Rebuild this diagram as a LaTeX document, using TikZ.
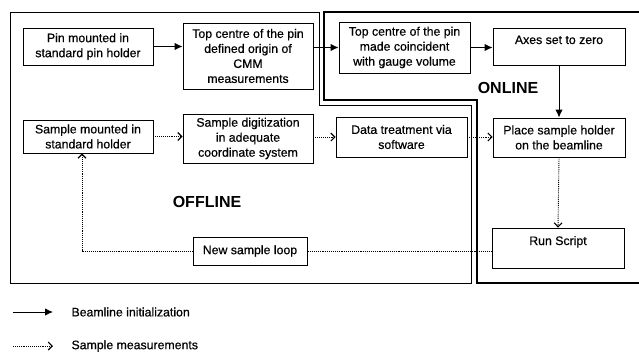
\documentclass[tikz,border=0pt]{standalone}
\usepackage{fontspec}
\setmainfont{Liberation Sans}
\newfontfamily\heavyfont{Liberation Sans}[FakeBold=0.5]
\usetikzlibrary{arrows.meta}
\begin{document}
\begin{tikzpicture}[x=1pt,y=-1pt,
  box/.style={draw,line width=0.9pt,inner sep=0pt,align=center,font=\heavyfont\fontsize{12.3}{15}\selectfont},
  solidarr/.style={line width=1pt,-{Latex[length=8pt,width=7.5pt]}},
  dotarr/.style={line width=0.9pt,densely dotted,-{Straight Barb[length=4pt,width=8pt,line width=1.1pt]}},
  dotline/.style={line width=0.9pt,densely dotted},
  zone/.style={font=\fontsize{16}{18}\selectfont\bfseries},
  legendtext/.style={font=\heavyfont\fontsize{12.3}{14}\selectfont,anchor=west}]
\useasboundingbox (0,0) rectangle (639,353);
\fill[white] (0,0) rectangle (639,353);

% region frames
\draw[line width=0.9pt] (10,12) -- (319,12) -- (319,105) -- (471,105) -- (471,283) -- (10,283) -- cycle;
\draw[line width=2.6pt] (640,12) -- (324,12) -- (324,100) -- (477,100) -- (477,283) -- (640,283);

% nodes
\node[box,minimum width=130pt,minimum height=37pt] (pin) at (88,46.5) {Pin mounted in\\standard pin holder};
\node[box,minimum width=130pt,minimum height=66pt] (def) at (248,56) {Top centre of the pin\\defined origin of\\CMM\\measurements};
\node[box,minimum width=131pt,minimum height=51pt] (coin) at (404.5,47.5) {Top centre of the pin\\made coincident\\with gauge volume};
\node[box,minimum width=132pt,text height=16pt,text depth=21pt] (axes) at (559,46.5) {Axes set to zero};
\node[box,minimum width=132pt,minimum height=39pt] (place) at (559,137.5) {Place sample holder\\on the beamline};
\node[box,minimum width=130pt,minimum height=33pt] (smount) at (88,136.5) {Sample mounted in\\standard holder};
\node[box,minimum width=130pt,minimum height=49pt] (digit) at (248,138.5) {Sample digitization\\in adequate\\coordinate system};
\node[box,minimum width=131pt,minimum height=40pt] (data) at (401.5,137) {Data treatment via\\software};
\node[box,minimum width=114pt,minimum height=28pt] (loop) at (250,251) {New sample loop};
\node[box,minimum width=132pt,text height=17pt,text depth=23pt] (run) at (558,248) {Run Script};

% zone labels
\node[zone] (online) at (508,88) {ONLINE};
\node[zone] (offline) at (207,202) {OFFLINE};

% beamline initialization (solid)
\draw[solidarr] (pin.east) -- (pin.east -| def.west);
\draw[solidarr] (coin.west -| def.east) -- (coin.west);
\draw[solidarr] (coin.east) -- (coin.east -| axes.west);
\draw[solidarr] (axes.south) -- (place.north);

% sample measurements (dotted)
\draw[dotarr] (smount.east) -- (smount.east -| digit.west);
\draw[dotarr] (data.west -| digit.east) -- (data.west);
\draw[dotarr] (data.east) -- (data.east -| place.west);
\draw[dotarr] (place.south) -- (run.north);
\draw[dotline] (run.west |- loop.east) -- (loop.east);
\coordinate (turn) at (82,251);
\draw[dotarr] (loop.west) -- (turn) -- (turn |- smount.south);

% legend
\coordinate (l1a) at (13,312);
\coordinate (l1b) at (53,312);
\coordinate (l2a) at (13,346);
\coordinate (l2b) at (53,346);
\draw[solidarr] (l1a) -- (l1b);
\draw[dotarr] (l2a) -- (l2b);
\node[legendtext] (leg1) at (68,312) {Beamline initialization};
\node[legendtext] (leg2) at (68,346) {Sample measurements};
\end{tikzpicture}
\end{document}
